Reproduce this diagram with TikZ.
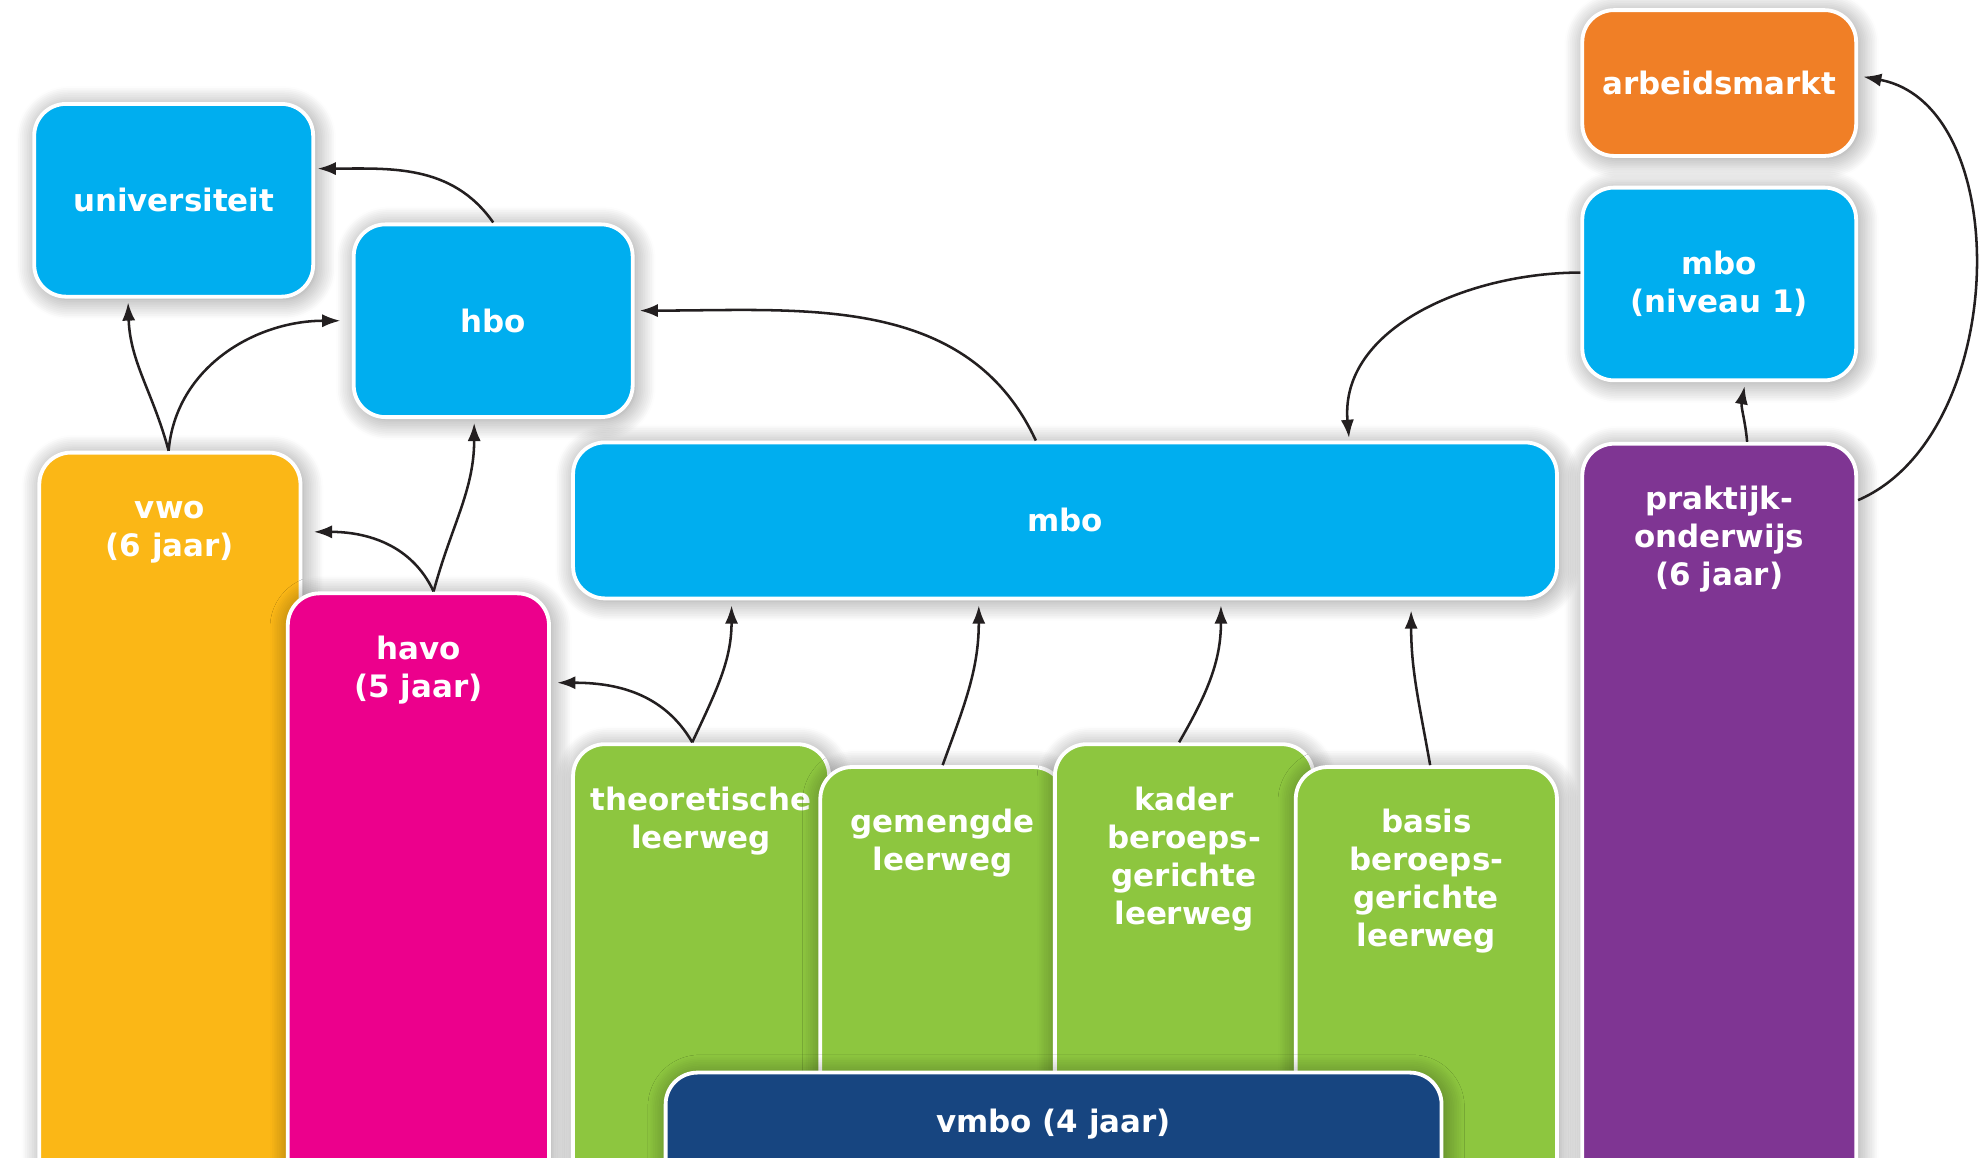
\documentclass[tikz,border=0pt]{standalone}
\usepackage{fontspec}
\setmainfont{DejaVu Sans}
\usepackage{tikz}
\usetikzlibrary{arrows.meta,positioning,shadows.blur}

\definecolor{skyb}{HTML}{00AEEF}
\definecolor{orng}{HTML}{F07F26}
\definecolor{yell}{HTML}{FBB716}
\definecolor{mgnt}{HTML}{EC008C}
\definecolor{purp}{HTML}{7F3593}
\definecolor{lgrn}{HTML}{8DC63F}
\definecolor{navy}{HTML}{174580}
\definecolor{ink}{HTML}{231F20}

\begin{document}
\begin{tikzpicture}[x=0.5pt,y=0.5pt,>={Latex[length=7.2pt,width=5.2pt]},
bx/.style={rectangle, rounded corners=12.5pt, draw=white, line width=1.5pt, text=white,
  font=\fontsize{12.2}{15}\selectfont\bfseries, align=center, inner sep=0pt,
  blur shadow={shadow xshift=1pt, shadow yshift=-1pt, shadow blur radius=8pt, shadow opacity=45, shadow blur steps=12}},
lbl/.style={text=white, font=\fontsize{12.2}{15}\selectfont\bfseries, align=center, inner sep=0pt},
pth/.style={line width=1pt, draw=ink}
]
\useasboundingbox (0,0) rectangle (1568,913);
\clip (0,0) rectangle (1568,913);
% Create the school columns
\node[bx, fill=yell, minimum width=103pt, minimum height=303pt] (vwo) at (134,253) {};
\node[lbl, below=16pt of vwo.north] (vwot) {\strut vwo\\(6 jaar)};
\node[bx, fill=mgnt, minimum width=103pt, minimum height=247.5pt] (havo) at (330,197.5) {};
\node[lbl, below=16pt of havo.north] (havot) {\strut havo\\(5 jaar)};
\node[bx, fill=lgrn, minimum width=101pt, minimum height=188pt] (theo) at (553,138) {};
\node[lbl, below=16pt of theo.north] (theot) {\strut theoretische\\leerweg};
\node[bx, fill=lgrn, minimum width=96.5pt, minimum height=179pt] (gem) at (743.5,129) {};
\node[lbl, below=16pt of gem.north] (gemt) {\strut gemengde\\leerweg};
\node[bx, fill=lgrn, minimum width=102pt, minimum height=188pt] (kader) at (934,138) {};
\node[lbl, below=16pt of kader.north] (kadert) {\strut kader\\beroeps-\\gerichte\\leerweg};
\node[bx, fill=lgrn, minimum width=103pt, minimum height=179pt] (basis) at (1125,129) {};
\node[lbl, below=16pt of basis.north] (basist) {\strut basis\\beroeps-\\gerichte\\leerweg};
\node[bx, fill=navy, minimum width=306pt, minimum height=58.5pt] (vmbo) at (831,8.5) {};
\node[lbl, below=13.5pt of vmbo.north] (vmbot) {\strut vmbo (4 jaar)};
\node[bx, fill=purp, minimum width=108pt, minimum height=306.5pt] (prak) at (1356,256.5) {};
\node[lbl, below=16pt of prak.north] (prakt) {\strut praktijk-\\onderwijs\\(6 jaar)};
% Create the follow-up boxes
\node[bx, fill=skyb, minimum width=388pt, minimum height=61.5pt] (mbo) at (840,502.5) {mbo};
\node[bx, fill=skyb, minimum width=110pt, minimum height=76pt] (uni) at (137,755) {universiteit};
\node[bx, fill=skyb, minimum width=110pt, minimum height=76pt] (hbo) at (389,660) {hbo};
\node[bx, fill=orng, minimum width=108pt, minimum height=57.5pt] (arb) at (1356,847.5) {arbeidsmarkt};
\node[bx, fill=skyb, minimum width=108pt, minimum height=76pt] (mboa) at (1356,689) {mbo\\(niveau 1)};
% Create the arrows
\draw[pth,->] (hbo.north) to[out=125,in=0] ([xshift=1pt,yshift=12.5pt]uni.east);
\draw[pth,->] ([xshift=-0.5pt]vwo.north) to[out=105,in=-88] ([xshift=-18pt,yshift=-1.5pt]uni.south);
\draw[pth,->] ([xshift=-0.5pt]vwo.north) to[out=85,in=180] ([xshift=-4.5pt]hbo.west);
\draw[pth,->] ([xshift=6pt]havo.north) to[out=115,in=0] ([xshift=4.5pt,yshift=-32pt]vwo.north east);
\draw[pth,->] ([xshift=6pt]havo.north) to[out=75,in=-90] ([xshift=-7.5pt,yshift=-1.5pt]hbo.south);
\draw[pth,->] ([xshift=-11.5pt]mbo.north) to[out=115,in=0] ([xshift=2pt,yshift=4pt]hbo.east);
\draw[pth,->] ([yshift=4.5pt]mboa.west) to[out=180,in=95] ([xshift=112pt,yshift=1pt]mbo.north);
\draw[pth,->] ([xshift=11pt]prak.north) to[out=95,in=-100] ([xshift=10pt,yshift=-1.5pt]mboa.south);
\draw[pth,->] ([yshift=-23pt]prak.north east) .. controls (1585,570) and (1590,830) .. ([xshift=2pt,yshift=2.5pt]arb.east);
\draw[pth,->] ([xshift=-3.5pt]theo.north) to[out=120,in=0] ([xshift=2.5pt,yshift=-36pt]havo.north east);
\draw[pth,->] ([xshift=-3.5pt]theo.north) to[out=65,in=-90] ([xshift=-131.5pt,yshift=-2pt]mbo.south);
\draw[pth,->] (gem.north) to[out=70,in=-90] ([xshift=-34pt,yshift=-2pt]mbo.south);
\draw[pth,->] ([xshift=-2pt]kader.north) to[out=60,in=-90] ([xshift=61.5pt,yshift=-2pt]mbo.south);
\draw[pth,->] ([xshift=1.5pt]basis.north) to[out=100,in=-90] ([xshift=136.5pt,yshift=-4pt]mbo.south);
\end{tikzpicture}
\end{document}
